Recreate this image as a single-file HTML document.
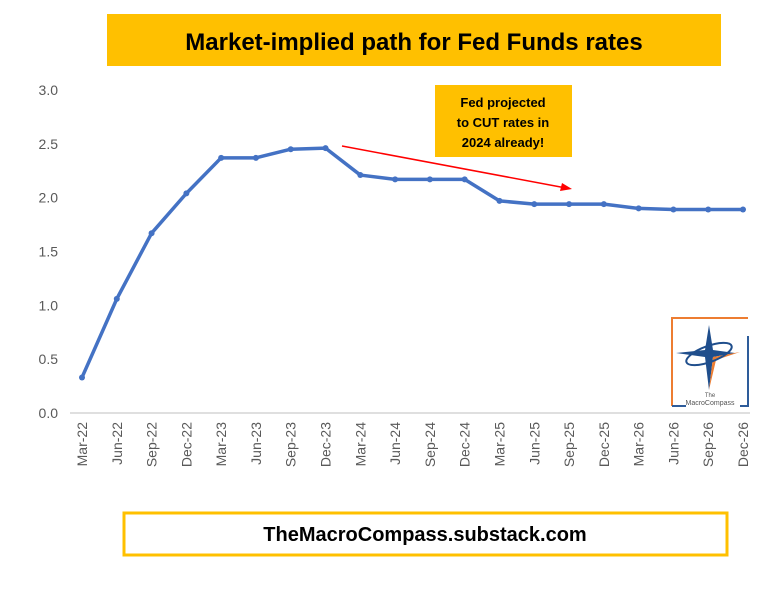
<!DOCTYPE html>
<html><head><meta charset="utf-8"><style>
body{margin:0;background:#fff;width:782px;height:584px;overflow:hidden;font-family:"Liberation Sans",sans-serif}
</style></head><body>
<svg id="chart" width="782" height="584" xmlns="http://www.w3.org/2000/svg">
<rect x="107" y="14" width="614" height="52" fill="#ffc000"/>
<text x="414" y="50" text-anchor="middle" font-size="24" font-weight="bold" fill="#000">Market-implied path for Fed Funds rates</text>
<g id="yaxis"></g>
<g id="xaxis"></g>
<path id="line" fill="none" stroke="#4472c4" stroke-width="3.5" stroke-linejoin="round"/>
<g id="pts"></g>
<rect x="435" y="85" width="137" height="72" fill="#ffc000"/>
<text font-size="13" font-weight="bold" text-anchor="middle" fill="#000"><tspan x="503" y="107">Fed projected</tspan><tspan x="503" y="127">to CUT rates in</tspan><tspan x="503" y="147">2024 already!</tspan></text>
<line x1="342" y1="146" x2="566" y2="188" stroke="#ff0000" stroke-width="1.5"/>
<polygon points="572,189 562,183 560,191" fill="#ff0000"/>
<g>
<path d="M672 406 V318 H748" fill="none" stroke="#ed7d31" stroke-width="2"/>
<path d="M672 406 H686 M748 336 V406 H740" fill="none" stroke="#2e5c9a" stroke-width="2"/>
<polygon points="709,325 713,350 735,353 713,357 709,390 705,357 676,353 705,350" fill="#1f4e8c"/>
<polygon points="713,357 740,352 716,360 709,390" fill="#ed7d31"/>
<ellipse cx="709" cy="354" rx="24" ry="8" fill="none" stroke="#1f4e8c" stroke-width="2" transform="rotate(-20 709 354)"/>
<text x="710" y="397" font-size="6" text-anchor="middle" fill="#555">The</text>
<text x="710" y="405" font-size="7" text-anchor="middle" fill="#555">MacroCompass</text>
</g>
<rect x="124" y="513" width="603" height="42" fill="#fff" stroke="#ffc000" stroke-width="3"/>
<text x="425" y="541" text-anchor="middle" font-size="20" font-weight="bold" fill="#000">TheMacroCompass.substack.com</text>
</svg>
<script>
const categories=["Mar-22","Jun-22","Sep-22","Dec-22","Mar-23","Jun-23","Sep-23","Dec-23","Mar-24","Jun-24","Sep-24","Dec-24","Mar-25","Jun-25","Sep-25","Dec-25","Mar-26","Jun-26","Sep-26","Dec-26"];
const rates=[0.33,1.06,1.67,2.04,2.37,2.37,2.45,2.46,2.21,2.17,2.17,2.17,1.97,1.94,1.94,1.94,1.90,1.89,1.89,1.89];
const yTicks=[0,0.5,1,1.5,2,2.5,3];
const yLabels=["0.0","0.5","1.0","1.5","2.0","2.5","3.0"];
const NS="http://www.w3.org/2000/svg";
const x0=82,x1=743,yb=413,yt=90;
const xs=i=>x0+i*(x1-x0)/(categories.length-1);
const ys=v=>yb-(v/3)*(yb-yt);
const ya=document.getElementById('yaxis'),xa=document.getElementById('xaxis');
yTicks.forEach((t,i)=>{
 const l=document.createElementNS(NS,'line');
 
 
 l.setAttribute('x1',70);l.setAttribute('x2',750);l.setAttribute('y1',ys(t));l.setAttribute('y2',ys(t));
 l.setAttribute('stroke',i==0?'#bfbfbf':'none');ya.appendChild(l);
 const tx=document.createElementNS(NS,'text');
 
 
 tx.setAttribute('x',58);tx.setAttribute('y',ys(t)+5);tx.setAttribute('text-anchor','end');
 tx.setAttribute('font-size','14');tx.setAttribute('fill','#595959');tx.textContent=yLabels[i];ya.appendChild(tx);
});
categories.forEach((c,i)=>{
 const tx=document.createElementNS(NS,'text');
 
 
 const x=xs(i)+5,y=422;
 tx.setAttribute('x',x);tx.setAttribute('y',y);tx.setAttribute('text-anchor','end');
 tx.setAttribute('transform',`rotate(-90 ${x} ${y})`);
 tx.setAttribute('font-size','14');tx.setAttribute('fill','#595959');tx.textContent=c;xa.appendChild(tx);
});
document.getElementById('line').setAttribute('d',rates.map((v,i)=>(i?'L':'M')+xs(i)+' '+ys(v)).join(' '));
const pts=document.getElementById('pts');
rates.forEach((v,i)=>{
 const c=document.createElementNS(NS,'circle');
 
 
 c.setAttribute('cx',xs(i));c.setAttribute('cy',ys(v));c.setAttribute('r',3);c.setAttribute('fill','#4472c4');pts.appendChild(c);
});
</script>
</body></html>
